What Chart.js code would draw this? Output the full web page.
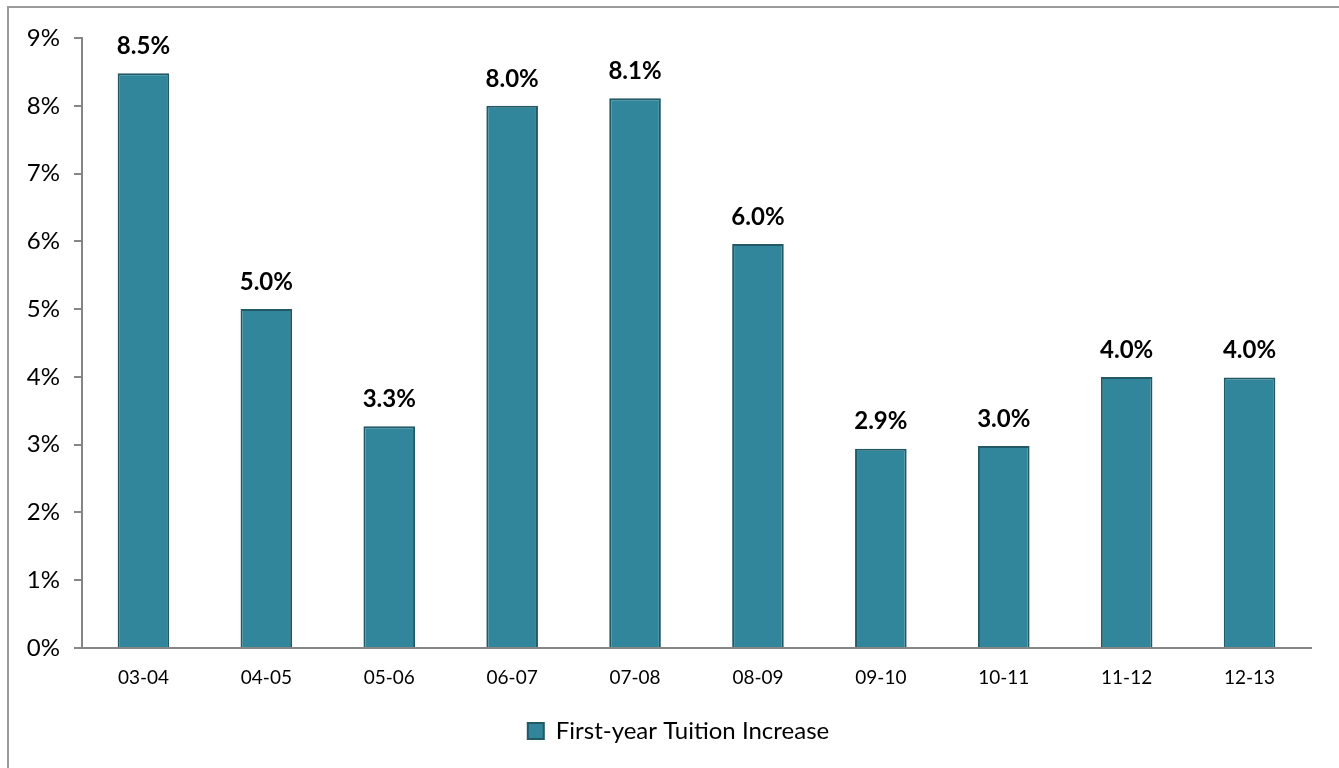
<!DOCTYPE html>
<html>
<head>
  <title>First-year Tuition Increase</title>
  <script src="https://cdn.jsdelivr.net/npm/chart.js"></script>
  <style>
    html, body {
      margin: 0;
      padding: 0;
      background: #ffffff;
      overflow: hidden;
    }
    .chart-container {
      position: relative;
      width: 1339px;
      height: 768px;
    }
  </style>
</head>
<body>
  <div class="chart-container">
    <canvas id="tuitionChart"></canvas>
  </div>

  <script>
    // data
    const years = ['03-04', '04-05', '05-06', '06-07', '07-08', '08-09', '09-10', '10-11', '11-12', '12-13'];
    const tuitionIncrease = [8.48, 5.0, 3.27, 8.0, 8.11, 5.96, 2.94, 2.98, 4.0, 3.99];
    const seriesName = 'First-year Tuition Increase';

    const fontFamily = 'Lato, "Open Sans", sans-serif';

    // outer frame of the chart object (only left and top edges are visible)
    const framePlugin = {
      id: 'frame',
      beforeDraw(chart) {
        const c = chart.ctx;
        c.save();
        c.strokeStyle = '#9a9a9a';
        c.lineWidth = 2;
        c.beginPath();
        c.moveTo(8, 800);
        c.lineTo(8, 7);
        c.lineTo(1400, 7);
        c.stroke();
        c.restore();
      }
    };

    // the legend sits a bit right of the canvas centre in the original
    const legendShift = {
      id: 'legendShift',
      afterLayout(chart) {
        chart.legend.left += 23;
        chart.legend.right += 23;
      }
    };

    // value labels above the bars
    const valueLabels = {
      id: 'valueLabels',
      afterDatasetsDraw(chart) {
        const c = chart.ctx;
        const meta = chart.getDatasetMeta(0);
        c.save();
        c.font = 'bold 24px ' + fontFamily;
        c.fillStyle = '#000000';
        c.textAlign = 'center';
        c.textBaseline = 'middle';
        meta.data.forEach((bar, i) => {
          c.fillText(tuitionIncrease[i].toFixed(1) + '%', bar.x, bar.y - 27);
        });
        c.restore();
      }
    };

    const ctx = document.getElementById('tuitionChart').getContext('2d');
    const chart = new Chart(ctx, {
      type: 'bar',
      data: {
        labels: years,
        datasets: [{
          label: seriesName,
          data: tuitionIncrease,
          backgroundColor: '#31869B',
          borderColor: '#215967',
          borderWidth: 2,
          borderSkipped: 'bottom',
          barPercentage: 0.42,
          categoryPercentage: 1.0
        }]
      },
      options: {
        responsive: true,
        maintainAspectRatio: false,
        animation: false,
        layout: {
          padding: { top: 38, right: 28, left: 0, bottom: 15 }
        },
        plugins: {
          tooltip: { enabled: false },
          legend: {
            position: 'bottom',
            labels: {
              font: { family: fontFamily, size: 24 },
              color: '#000000',
              boxWidth: 16,
              boxHeight: 16,
              padding: 24
            }
          }
        },
        scales: {
          x: {
            grid: { display: false },
            border: { display: true, color: '#868686', width: 2 },
            ticks: {
              font: { family: fontFamily, size: 19 },
              color: '#000000',
              padding: 10
            },
            afterFit(scale) { scale.height = 47; }
          },
          y: {
            min: 0,
            max: 9,
            grid: {
              drawOnChartArea: false,
              drawTicks: true,
              tickLength: 8,
              color: '#868686',
              lineWidth: 2
            },
            border: { display: true, color: '#868686', width: 2 },
            ticks: {
              stepSize: 1,
              font: { family: fontFamily, size: 24 },
              color: '#000000',
              padding: 14,
              callback: v => v + '%'
            },
            afterFit(scale) { scale.width = 82; }
          }
        }
      },
      plugins: [framePlugin, legendShift, valueLabels]
    });
  </script>
</body>
</html>
